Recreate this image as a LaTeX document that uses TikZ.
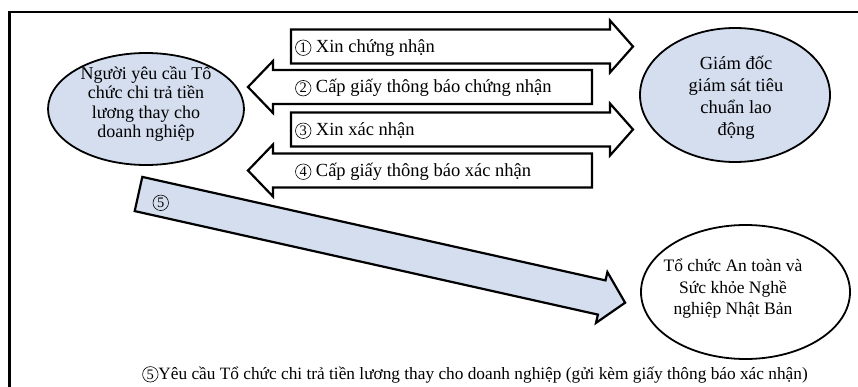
\documentclass[tikz,border=0pt]{standalone}
\usepackage{fontspec}
\setmainfont{Liberation Serif}
\definecolor{lb}{RGB}{212,222,239}
\usetikzlibrary{shapes.geometric}
\newcommand{\cn}[1]{\tikz[baseline=(cnx.base)]{\node[circle, draw=black, line width=0.6pt, inner sep=0pt, minimum size=15.5pt, anchor=center, font=\fontsize{14.5}{14.5}\selectfont] (cnx) {#1};}}
\tikzset{
  blockarrow/.style={draw=black, line width=2.2pt, line join=miter, fill=white},
  bluearrow/.style={draw=black, line width=2.2pt, line join=miter, fill=lb},
  oval/.style={ellipse, draw=black, line width=1.8pt, inner sep=0pt},
  lbl/.style={anchor=base west, inner sep=0pt, font=\fontsize{18.5}{20}\selectfont},
  ovaltext/.style={align=center, inner sep=0pt, font=\fontsize{18.5}{19.5}\selectfont}
}
\begin{document}
\begin{tikzpicture}[x=1pt,y=-1pt]
\useasboundingbox (0,0) rectangle (858,387);
\fill[white] (0,0) rectangle (858,387);
% frame
\draw[line width=2.2pt] (860,12) -- (9.5,12) -- (9.5,390);
% ovals
\node[oval, fill=lb, minimum width=196pt, minimum height=112pt] (req) at (146,109) {};
\node[ovaltext, font=\fontsize{18}{19.3}\selectfont] (reqtext) at (146,104) {Người yêu cầu Tổ\\chức chi trả tiền\\lương thay cho\\doanh nghiệp};
\node[oval, fill=lb, minimum width=190pt, minimum height=134pt] (dir) at (735,95) {};
\node[ovaltext, font=\fontsize{18.5}{22}\selectfont] (dirtext) at (736,98) {Giám đốc\\giám sát tiêu\\chuẩn lao\\động};
\node[oval, fill=white, minimum width=209pt, minimum height=134pt] (jo) at (745.5,292) {};
\node[ovaltext, font=\fontsize{17.5}{21.5}\selectfont] (jotext) at (733,289) {Tổ chức An toàn và\\Sức khỏe Nghề\\nghiệp Nhật Bản};
% arrow 1 (right)
\draw[blockarrow] (291,29.5) -- (610,29.5) -- (610,20.5) -- (633,46.5) -- (610,72.5) -- (610,63.5) -- (291,63.5) -- cycle;
% arrow 2 (left)
\draw[blockarrow] (592,70) -- (273,70) -- (273,61) -- (248,87) -- (273,113) -- (273,104) -- (592,104) -- cycle;
% arrow 3 (right)
\draw[blockarrow] (291,112.5) -- (610,112.5) -- (610,103.5) -- (633,129.5) -- (610,155.5) -- (610,146.5) -- (291,146.5) -- cycle;
% arrow 4 (left)
\draw[blockarrow] (592,153.5) -- (273,153.5) -- (273,144.5) -- (248,170.5) -- (273,196.5) -- (273,187.5) -- (592,187.5) -- cycle;
% arrow 5 (diagonal)
\draw[bluearrow] (142.3,176.9) -- (605.5,280.4) -- (607.4,272.1) -- (625.1,302.7) -- (596.0,322.9) -- (597.9,314.6) -- (134.7,211.1) -- cycle;
% labels
\node[lbl] (l1) at (295,52.5) {\cn{1} Xin chứng nhận};
\node[lbl] (l2) at (295,93) {\cn{2} Cấp giấy thông báo chứng nhận};
\node[lbl] (l3) at (295,135.5) {\cn{3} Xin xác nhận};
\node[lbl] (l4) at (295,176.5) {\cn{4} Cấp giấy thông báo xác nhận};
\node[lbl] (l5) at (152.5,207.5) {\cn{5}};
\node[anchor=base, inner sep=0pt, font=\fontsize{17.3}{17.3}\selectfont] (cap) at (475,379) {\cn{5}Yêu cầu Tổ chức chi trả tiền lương thay cho doanh nghiệp (gửi kèm giấy thông báo xác nhận)};
\end{tikzpicture}
\end{document}
